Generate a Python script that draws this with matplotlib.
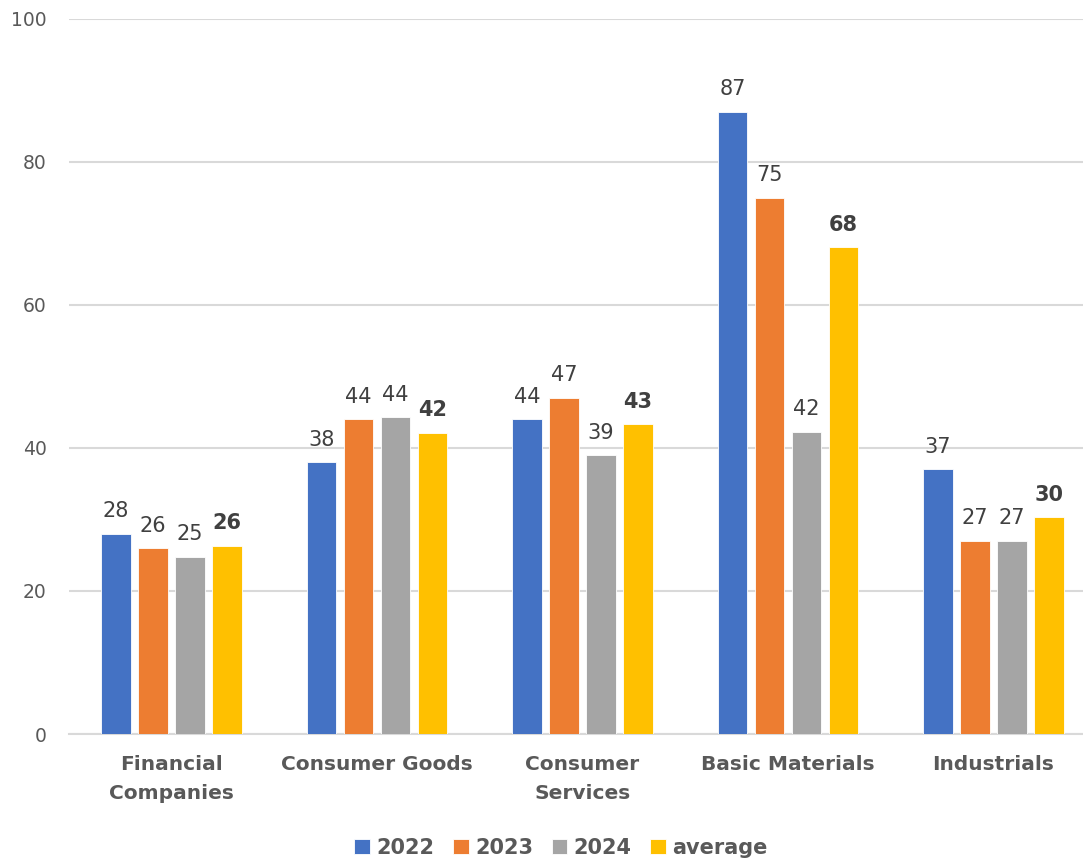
import matplotlib
matplotlib.use("Agg")
import matplotlib.pyplot as plt
import numpy as np

categories = ["Financial\nCompanies", "Consumer Goods", "Consumer\nServices",
              "Basic Materials", "Industrials"]
series_names = ["2022", "2023", "2024", "average"]
values_2022 = [28.0, 38.0, 44.0, 87.0, 37.0]
values_2023 = [26.0, 44.0, 47.0, 75.0, 27.0]
values_2024 = [24.8, 44.3, 39.0, 42.3, 27.0]
values_avg = [26.3, 42.1, 43.3, 68.1, 30.3]
colors = ["#4472C4", "#ED7D31", "#A5A5A5", "#FFC000"]
yticks = [0, 20, 40, 60, 80, 100]

plt.rcParams["font.family"] = ["DejaVu Sans"]

fig = plt.figure(figsize=(10.83, 8.6), dpi=100)
ax = fig.add_axes([68.75 / 1083, 126 / 860, 1027.5 / 1083, 715 / 860])

x = np.arange(len(categories))
bar_w = 29.5 / 205.5
step = 37 / 205.5
all_series = [values_2022, values_2023, values_2024, values_avg]
for i, (name, vals, col) in enumerate(zip(series_names, all_series, colors)):
    offs = (i - 1.5) * step
    ax.bar(x + offs, vals, width=bar_w, color=col, label=name, zorder=3,
           edgecolor="white", linewidth=0.6)
    bold = name == "average"
    for xi, v in zip(x + offs, vals):
        ax.annotate(f"{v:.0f}", (xi, v), xytext=(0, 9), textcoords="offset points",
                    ha="center", va="bottom", fontsize=15,
                    fontweight="bold" if bold else "normal",
                    color="#404040")

ax.set_xlim(-0.5, len(categories) - 0.5)
ax.set_ylim(0, 100)
ax.set_yticks(yticks)
ax.yaxis.grid(True, color="#D9D9D9", linewidth=1.5, zorder=0)
ax.set_axisbelow(True)
for s in ["top", "right", "left"]:
    ax.spines[s].set_visible(False)
ax.spines["bottom"].set_color("#D9D9D9")
ax.spines["bottom"].set_linewidth(1.5)
ax.tick_params(axis="y", length=0, pad=16, labelsize=13.5, labelcolor="#595959")
ax.tick_params(axis="x", length=0, pad=15, labelsize=14.5, labelcolor="#595959")
ax.set_xticks(x)
ax.set_xticklabels(categories, fontweight="bold", linespacing=1.65)

fig.legend(loc="center", bbox_to_anchor=(561 / 1083, 12 / 860), ncol=4, frameon=False,
           prop={"size": 15, "weight": "bold"}, labelcolor="#595959",
           handlelength=0.75, handleheight=0.75, handletextpad=0.3, columnspacing=0.9)

fig.savefig("out.png", dpi=100)
